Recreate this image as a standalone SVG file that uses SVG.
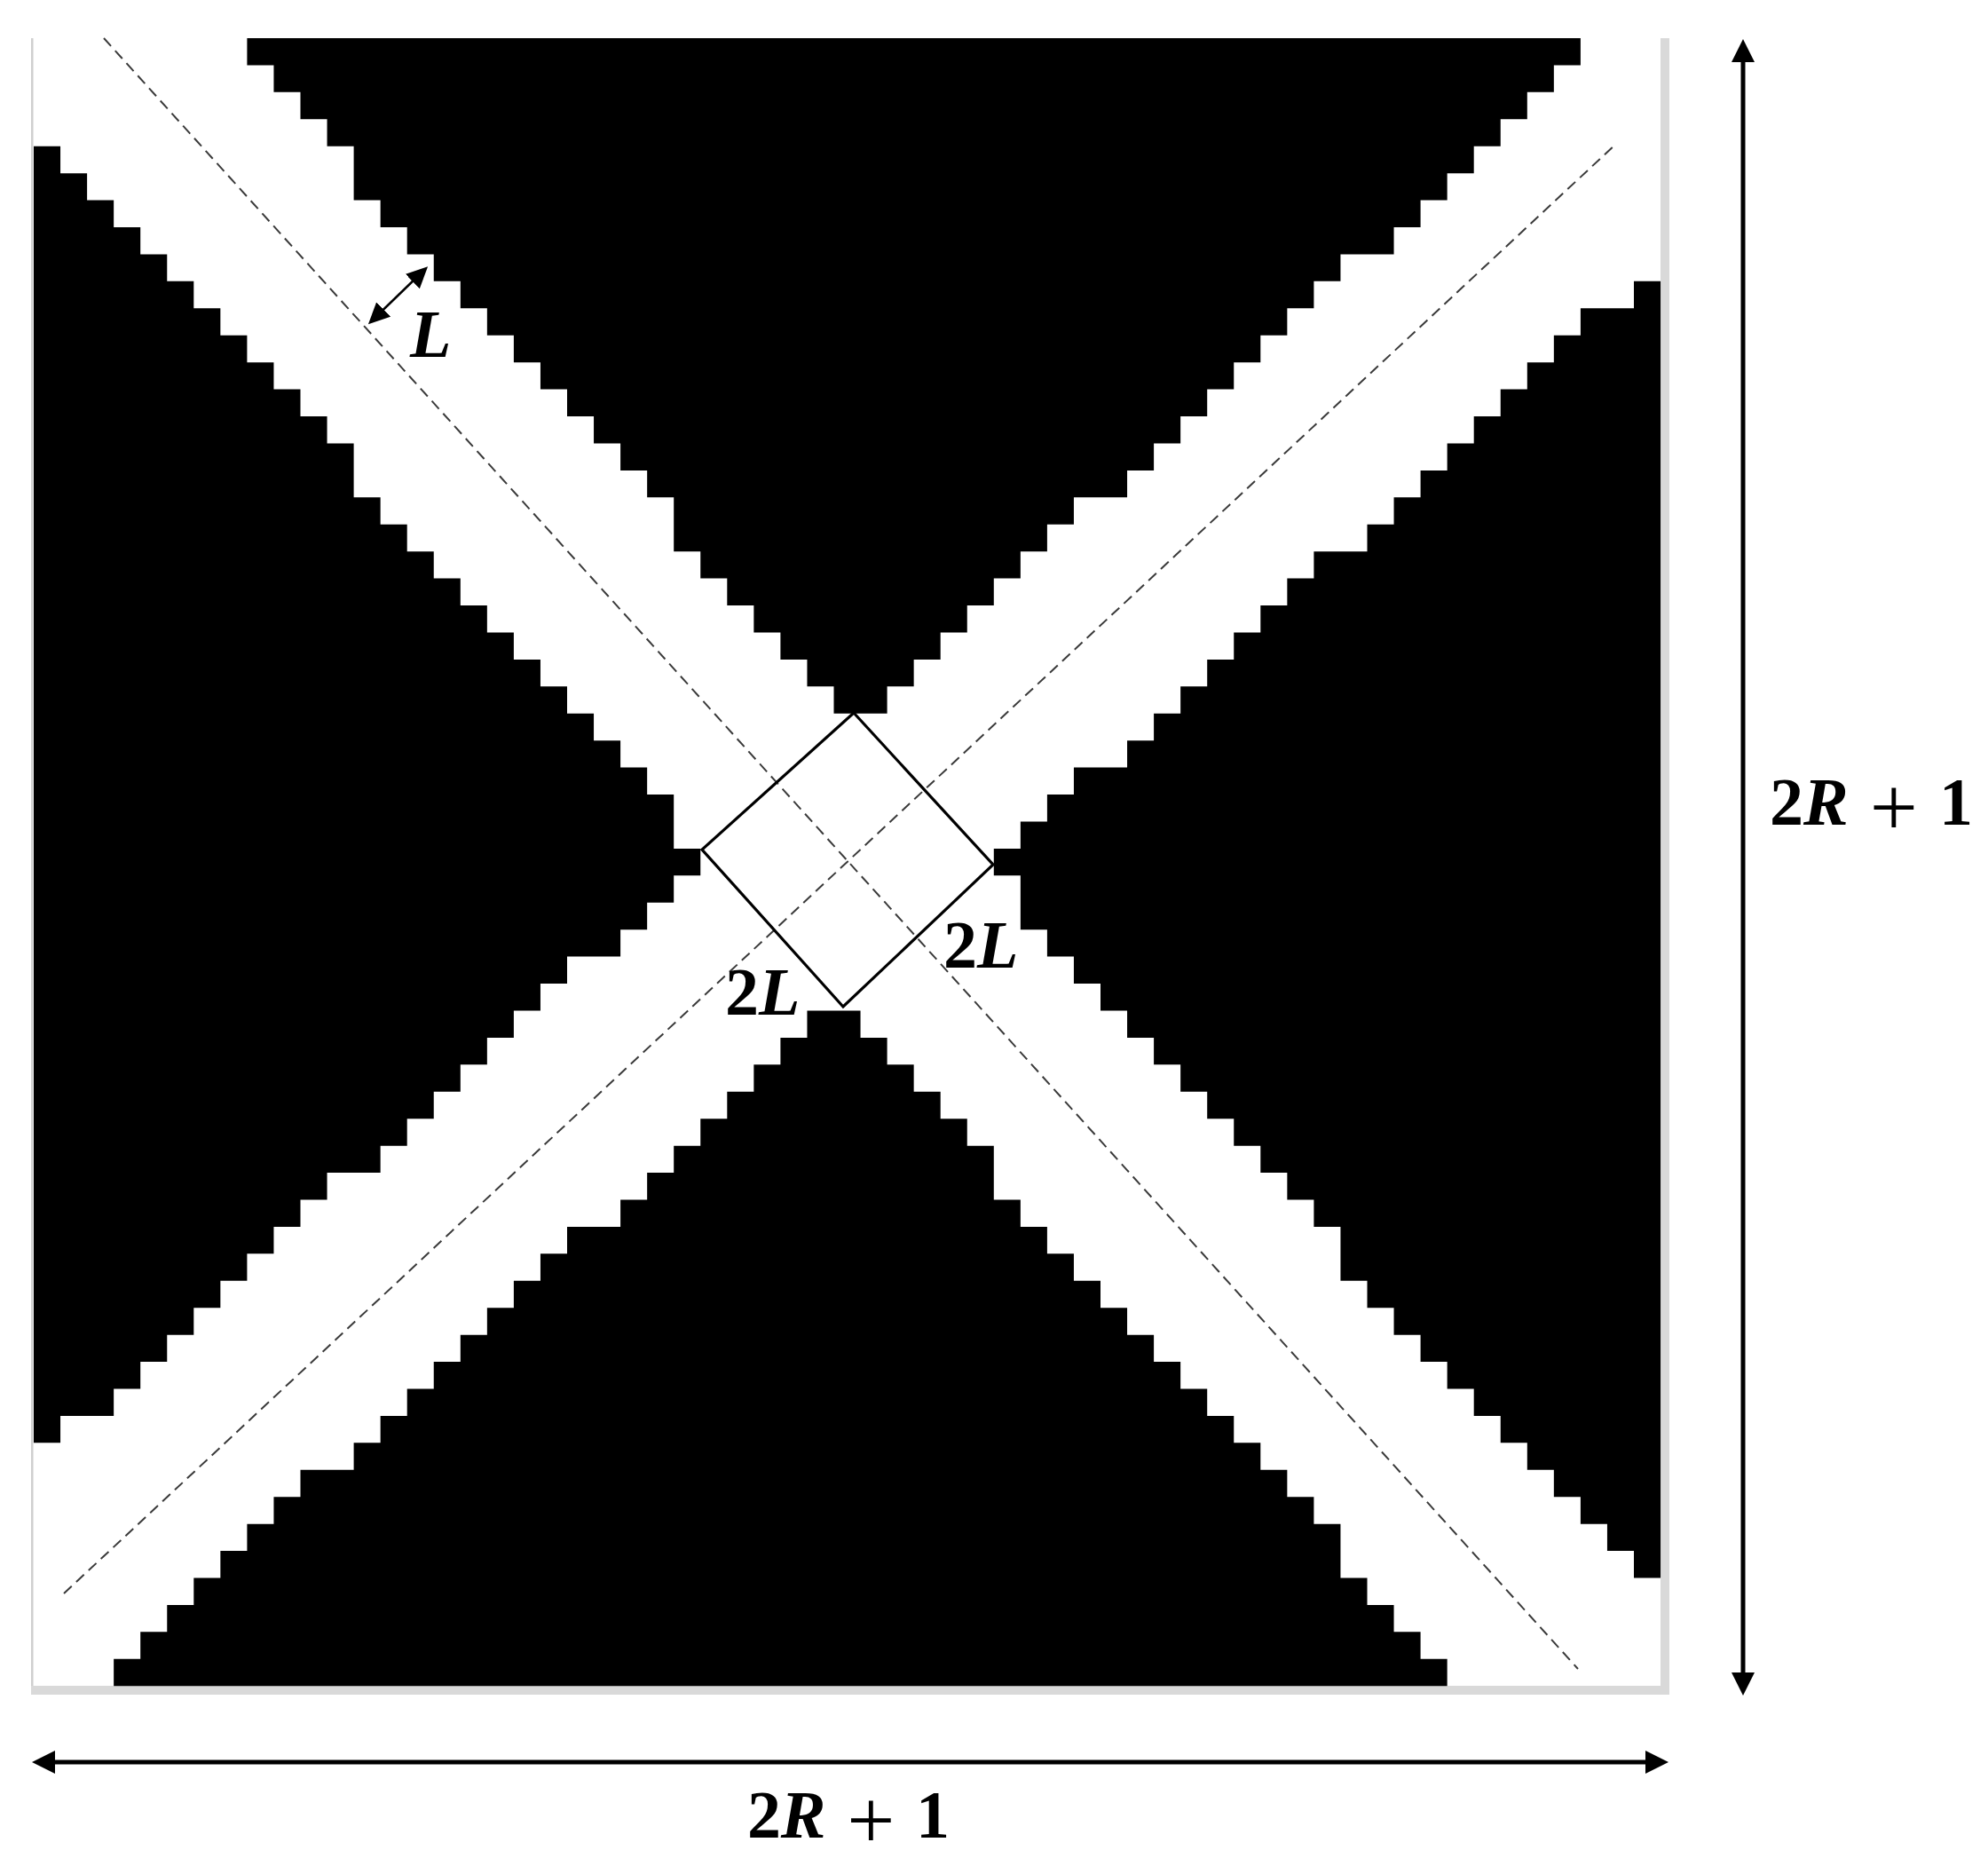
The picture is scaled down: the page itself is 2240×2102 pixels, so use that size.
<svg xmlns="http://www.w3.org/2000/svg" width="2240" height="2102" viewBox="0 0 2240 2102">
  <style>
    .blk { fill: #000000; }
    .dash { fill: none; stroke: #3a3a3a; stroke-width: 2; stroke-dasharray: 12 7; }
    .dim { fill: none; stroke: #000000; stroke-width: 5; }
    .lbl { font-family: "Liberation Serif", "Times New Roman", serif; font-size: 76px; fill: #000000; }
    .b { font-weight: bold; }
    .bi { font-weight: bold; font-style: italic; }
    .op { font-size: 96px; font-weight: normal; }
  </style>
  <defs>
    <marker id="head" markerUnits="userSpaceOnUse" markerWidth="28" markerHeight="28" refX="6" refY="13" orient="auto-start-reverse">
      <path d="M0,0 L26,13 L0,26 z" fill="#000000"/>
    </marker>
    <marker id="headS" markerUnits="userSpaceOnUse" markerWidth="26" markerHeight="24" refX="10" refY="11.5" orient="auto-start-reverse">
      <path d="M0,0 L24,11.5 L0,23 z" fill="#000000"/>
    </marker>
  </defs>
  <rect x="0" y="0" width="2240" height="2102" fill="#ffffff"/>

  <g id="frame">
    <rect x="35" y="43" width="2.5" height="1866" fill="#cfcfcf"/>
    <rect x="1871" y="43" width="10" height="1866" fill="#d9d9d9"/>
    <rect x="35" y="1899" width="1846" height="10" fill="#d9d9d9"/>
  </g>

  <g id="pixels" transform="translate(38 43) scale(30.05 30.43)">
    <path id="top-block" class="blk" d="M8,0 H58 V1 H57 V2 H56 V3 H55 V4 H54 V5 H53 V6 H52 V7 H51 V8 H49 V9 H48 V10 H47 V11 H46 V12 H45 V13 H44 V14 H43 V15 H42 V16 H41 V17 H39 V18 H38 V19 H37 V20 H36 V21 H35 V22 H34 V23 H33 V24 H32 V25 H30 V24 H29 V23 H28 V22 H27 V21 H26 V20 H25 V19 H24 V17 H23 V16 H22 V15 H21 V14 H20 V13 H19 V12 H18 V11 H17 V10 H16 V9 H15 V8 H14 V7 H13 V6 H12 V4 H11 V3 H10 V2 H9 V1 H8 Z"/>
    <path id="left-block" class="blk" d="M0,4 H1 V5 H2 V6 H3 V7 H4 V8 H5 V9 H6 V10 H7 V11 H8 V12 H9 V13 H10 V14 H11 V15 H12 V17 H13 V18 H14 V19 H15 V20 H16 V21 H17 V22 H18 V23 H19 V24 H20 V25 H21 V26 H22 V27 H23 V28 H24 V30 H25 V31 H24 V32 H23 V33 H22 V34 H20 V35 H19 V36 H18 V37 H17 V38 H16 V39 H15 V40 H14 V41 H13 V42 H11 V43 H10 V44 H9 V45 H8 V46 H7 V47 H6 V48 H5 V49 H4 V50 H3 V51 H1 V52 H0 Z"/>
    <path id="right-block" class="blk" d="M60,9 H61 V57 H60 V56 H59 V55 H58 V54 H57 V53 H56 V52 H55 V51 H54 V50 H53 V49 H52 V48 H51 V47 H50 V46 H49 V44 H48 V43 H47 V42 H46 V41 H45 V40 H44 V39 H43 V38 H42 V37 H41 V36 H40 V35 H39 V34 H38 V33 H37 V31 H36 V30 H37 V29 H38 V28 H39 V27 H41 V26 H42 V25 H43 V24 H44 V23 H45 V22 H46 V21 H47 V20 H48 V19 H50 V18 H51 V17 H52 V16 H53 V15 H54 V14 H55 V13 H56 V12 H57 V11 H58 V10 H60 Z"/>
    <path id="bottom-block" class="blk" d="M29,36 H31 V37 H32 V38 H33 V39 H34 V40 H35 V41 H36 V43 H37 V44 H38 V45 H39 V46 H40 V47 H41 V48 H42 V49 H43 V50 H44 V51 H45 V52 H46 V53 H47 V54 H48 V55 H49 V57 H50 V58 H51 V59 H52 V60 H53 V61 H3 V60 H4 V59 H5 V58 H6 V57 H7 V56 H8 V55 H9 V54 H10 V53 H12 V52 H13 V51 H14 V50 H15 V49 H16 V48 H17 V47 H18 V46 H19 V45 H20 V44 H22 V43 H23 V42 H24 V41 H25 V40 H26 V39 H27 V38 H28 V37 H29 Z"/>
  </g>

  <g id="connectors">
    <line id="axis-1" class="dash" x1="117" y1="43" x2="1778" y2="1880"/>
    <line id="axis-2" class="dash" x1="72" y1="1795" x2="1821" y2="162"/>
    <polygon id="centre-square" points="962,803 1119,974 950,1134 791,957" fill="none" stroke="#000000" stroke-width="3.2"/>
    <line id="width-arrow" x1="425" y1="355.5" x2="472" y2="310" stroke="#000000" stroke-width="2.5" marker-start="url(#headS)" marker-end="url(#headS)"/>
    <line id="dim-vertical" class="dim" x1="1964" y1="64" x2="1964" y2="1890" marker-start="url(#head)" marker-end="url(#head)"/>
    <line id="dim-horizontal" class="dim" x1="56" y1="1985" x2="1860" y2="1985" marker-start="url(#head)" marker-end="url(#head)"/>
  </g>

  <g id="labels">
    <text id="label-L" class="lbl bi" x="462" y="402">L</text>
    <text id="label-2L-left" class="lbl" x="817" y="1143"><tspan class="b">2</tspan><tspan class="bi">L</tspan></text>
    <text id="label-2L-right" class="lbl" x="1063" y="1090"><tspan class="b">2</tspan><tspan class="bi">L</tspan></text>
    <text id="label-side" class="lbl" x="1994" y="929" textLength="229" lengthAdjust="spacing"><tspan class="b">2</tspan><tspan class="bi">R</tspan><tspan class="op" dy="12"> + </tspan><tspan class="b" dy="-12">1</tspan></text>
    <text id="label-bottom" class="lbl" x="842" y="2070" textLength="228" lengthAdjust="spacing"><tspan class="b">2</tspan><tspan class="bi">R</tspan><tspan class="op" dy="12"> + </tspan><tspan class="b" dy="-12">1</tspan></text>
  </g>
</svg>
